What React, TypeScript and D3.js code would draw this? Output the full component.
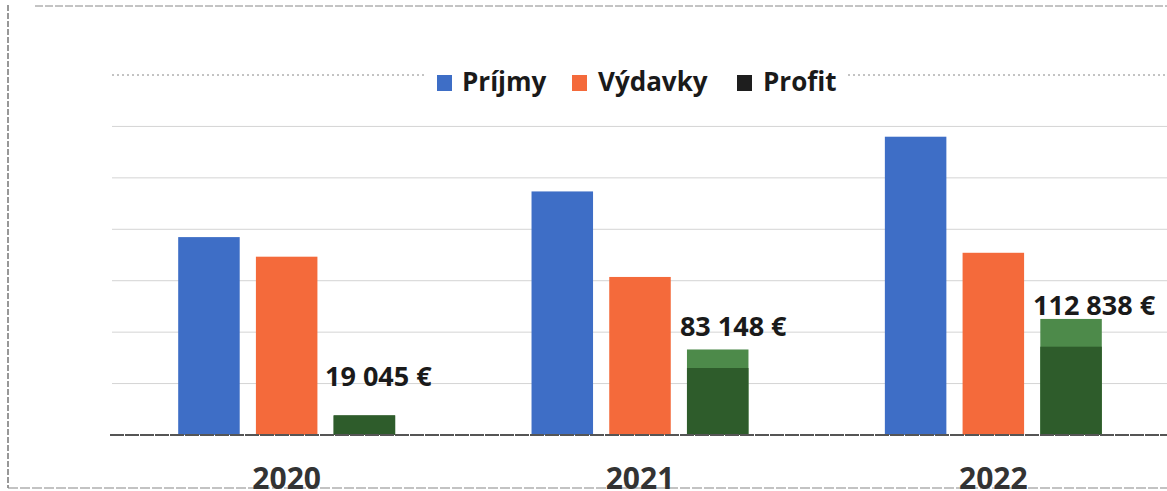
import * as d3 from "d3";

const years = ["2020", "2021", "2022"];
const seriesKeys = ["prijmy", "vydavky", "profit"];
const seriesNames = ["Príjmy", "Výdavky", "Profit"];
const prijmy = [192400, 236800, 290000];
const vydavky = [173355, 153652, 177162];
const profit = [19045, 83148, 112838];
// darker lower part of the profit bars as printed
const profitShade = [19045, 65140, 85850];
const profitLabels = ["19 045 €", "83 148 €", "112 838 €"];
const gridTicks = [50000, 100000, 150000, 200000, 250000, 300000];

const W = 1167;
const H = 491;
const colors: Record<string, string> = {
  prijmy: "#3e6ec6",
  vydavky: "#f46a3b",
  profit: "#4d8a4a",
};
const profitDark = "#2e5c2b";
const legendSwatch = ["#3e6ec6", "#f46a3b", "#1e1e1e"];

// manual label offsets (as in the source chart)
const labelDx = [14, 15.5, 23];
const labelDy = [29.5, 13.5, 4];

export default function App() {
  const x0 = d3.scaleBand<string>().domain(years).range([110, 1170]).paddingInner(0.386).paddingOuter(0.193);
  const x1 = d3.scaleBand<string>().domain(seriesKeys).range([0, x0.bandwidth()]).paddingInner(0.2085).paddingOuter(0);
  const y = d3.scaleLinear().domain([0, 350000]).range([435, 75]);
  const values: Record<string, number[]> = { prijmy, vydavky, profit };
  const font = "'Open Sans', 'DejaVu Sans', sans-serif";

  // legend positions
  const legendSq = [437, 572, 737];
  const legendTx = [462, 598, 763];

  return (
    <svg width={W} height={H} style={{ position: "absolute", left: 0, top: 0, background: "#fff" }}>
      {/* frame */}
      <line x1={8} x2={8} y1={5} y2={488} stroke="#777" strokeWidth={1.5} strokeDasharray="6 2" />
      <line x1={35} x2={W} y1={6} y2={6} stroke="#888" strokeWidth={1} strokeDasharray="8 2" />
      <line x1={8} x2={W} y1={488} y2={488} stroke="#888" strokeWidth={1.2} strokeDasharray="10 2" />

      {/* gridlines */}
      {gridTicks.map((t) => (
        <line key={t} x1={112} x2={W} y1={y(t)} y2={y(t)} stroke="#d4d4d4" strokeWidth={1} />
      ))}
      <line x1={112} x2={425} y1={y(350000)} y2={y(350000)} stroke="#888" strokeWidth={1} strokeDasharray="2 3" />
      <line x1={848} x2={W} y1={y(350000)} y2={y(350000)} stroke="#888" strokeWidth={1} strokeDasharray="2 3" />

      {/* bars */}
      {years.map((yr, i) => (
        <g key={yr} transform={`translate(${x0(yr)},0)`}>
          {seriesKeys.map((k) => (
            <rect
              key={k}
              x={x1(k)}
              width={x1.bandwidth()}
              y={y(values[k][i])}
              height={y(0) - y(values[k][i])}
              fill={k === "profit" && i === 0 ? profitDark : colors[k]}
            />
          ))}
          <rect
            x={x1("profit")}
            width={x1.bandwidth()}
            y={y(profitShade[i])}
            height={y(0) - y(profitShade[i])}
            fill={profitDark}
          />
        </g>
      ))}

      {/* baseline */}
      <line x1={110} x2={W} y1={y(0)} y2={y(0)} stroke="#555" strokeWidth={2} strokeDasharray="14 1" />

      {/* data labels */}
      {years.map((yr, i) => (
        <text
          key={yr}
          x={(x0(yr) as number) + (x1("profit") as number) + x1.bandwidth() / 2 + labelDx[i]}
          y={y(profit[i]) - labelDy[i]}
          textAnchor="middle"
          fontFamily={font}
          fontWeight={700}
          fontSize={27}
          fill="#1a1a1a"
        >
          {profitLabels[i]}
        </text>
      ))}

      {/* x labels */}
      {years.map((yr) => (
        <text
          key={yr}
          x={(x0(yr) as number) + x0.bandwidth() / 2}
          y={489}
          textAnchor="middle"
          fontFamily={font}
          fontWeight={700}
          fontSize={30}
          fill="#333"
        >
          {yr}
        </text>
      ))}

      {/* legend */}
      {seriesNames.map((n, i) => (
        <g key={n}>
          <rect x={legendSq[i]} y={75} width={15} height={16} fill={legendSwatch[i]} />
          <text x={legendTx[i]} y={91} fontFamily={font} fontWeight={700} fontSize={26} fill="#1a1a1a">
            {n}
          </text>
        </g>
      ))}
    </svg>
  );
}
